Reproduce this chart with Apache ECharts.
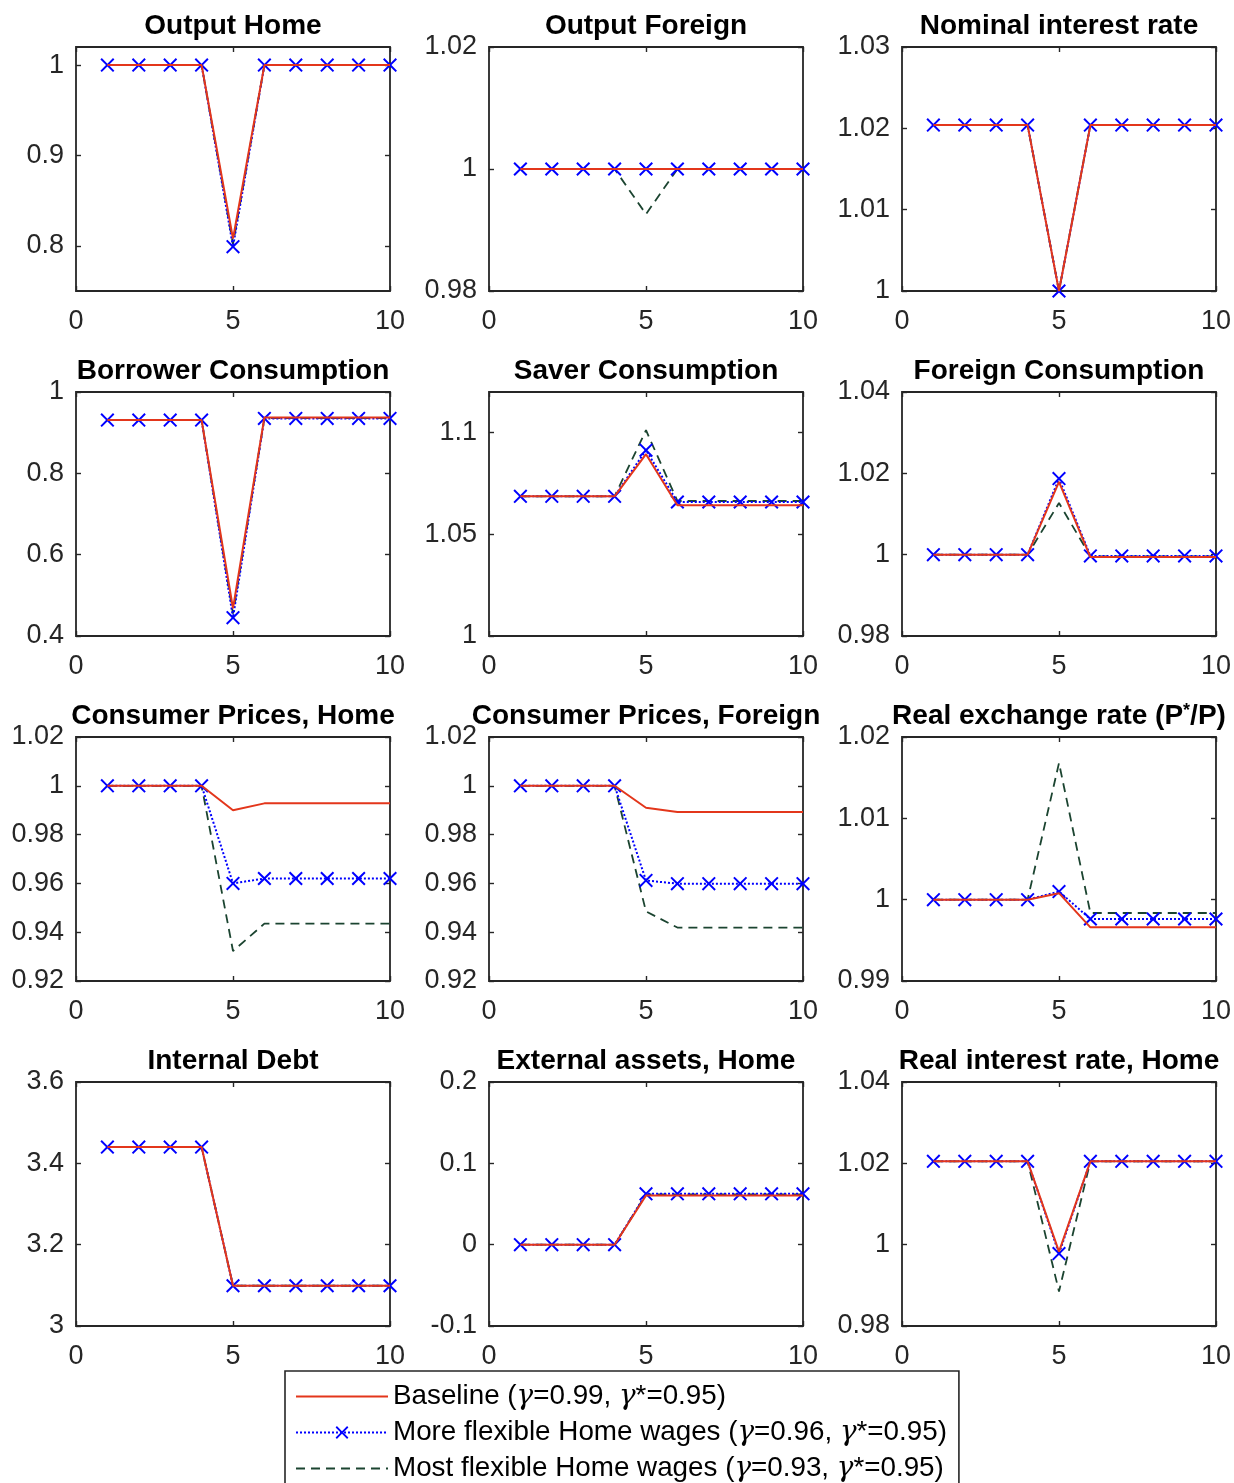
<!DOCTYPE html>
<html><head><meta charset="utf-8">
<script src="https://cdn.jsdelivr.net/npm/echarts@6/dist/echarts.min.js"></script>
<style>html,body{margin:0;padding:0;background:#fff}#c{width:1234px;height:1483px}</style>
</head><body><div id="c"></div>
<script>
const periods = [1, 2, 3, 4, 5, 6, 7, 8, 9, 10];
const seriesNames = [
  'Baseline (γ=0.99, γ*=0.95)',
  'More flexible Home wages (γ=0.96, γ*=0.95)',
  'Most flexible Home wages (γ=0.93, γ*=0.95)'
];
const panelTitles = [
  'Output Home', 'Output Foreign', 'Nominal interest rate',
  'Borrower Consumption', 'Saver Consumption', 'Foreign Consumption',
  'Consumer Prices, Home', 'Consumer Prices, Foreign', 'Real exchange rate (P*/P)',
  'Internal Debt', 'External assets, Home', 'Real interest rate, Home'
];
const xTicks = [0, 5, 10];

// each: [baseline, more flexible, most flexible]
const outputHome = [
  [1, 1, 1, 1, 0.808, 1, 1, 1, 1, 1],
  [1, 1, 1, 1, 0.799, 1, 1, 1, 1, 1],
  [1, 1, 1, 1, 0.802, 1, 1, 1, 1, 1]
];
const outputForeign = [
  [1, 1, 1, 1, 1, 1, 1, 1, 1, 1],
  [1, 1, 1, 1, 1, 1, 1, 1, 1, 1],
  [1, 1, 1, 1, 0.9926, 1, 1, 1, 1, 1]
];
const nominalRate = [
  [1.0204, 1.0204, 1.0204, 1.0204, 1.0, 1.0204, 1.0204, 1.0204, 1.0204, 1.0204],
  [1.0204, 1.0204, 1.0204, 1.0204, 1.0, 1.0204, 1.0204, 1.0204, 1.0204, 1.0204],
  [1.0204, 1.0204, 1.0204, 1.0204, 1.0, 1.0204, 1.0204, 1.0204, 1.0204, 1.0204]
];
const borrowerCons = [
  [0.931, 0.931, 0.931, 0.931, 0.468, 0.9375, 0.9375, 0.9375, 0.9375, 0.9375],
  [0.931, 0.931, 0.931, 0.931, 0.445, 0.935, 0.935, 0.935, 0.935, 0.935],
  [0.931, 0.931, 0.931, 0.931, 0.455, 0.936, 0.936, 0.936, 0.936, 0.936]
];
const saverCons = [
  [1.0687, 1.0687, 1.0687, 1.0687, 1.0894, 1.0643, 1.0643, 1.0643, 1.0643, 1.0643],
  [1.0687, 1.0687, 1.0687, 1.0687, 1.0914, 1.0659, 1.0659, 1.0659, 1.0659, 1.0659],
  [1.0687, 1.0687, 1.0687, 1.0687, 1.1012, 1.0664, 1.0664, 1.0664, 1.0664, 1.0664]
];
const foreignCons = [
  [1, 1, 1, 1, 1.0179, 0.9994, 0.9994, 0.9994, 0.9994, 0.9994],
  [1, 1, 1, 1, 1.0187, 0.9997, 0.9997, 0.9997, 0.9997, 0.9997],
  [1, 1, 1, 1, 1.0127, 0.9996, 0.9996, 0.9996, 0.9996, 0.9996]
];
const cpiHome = [
  [1, 1, 1, 1, 0.990, 0.9928, 0.9928, 0.9928, 0.9928, 0.9928],
  [1, 1, 1, 1, 0.960, 0.962, 0.962, 0.962, 0.962, 0.962],
  [1, 1, 1, 1, 0.9323, 0.9435, 0.9435, 0.9435, 0.9435, 0.9435]
];
const cpiForeign = [
  [1, 1, 1, 1, 0.991, 0.9893, 0.9893, 0.9893, 0.9893, 0.9893],
  [1, 1, 1, 1, 0.9612, 0.9599, 0.9599, 0.9599, 0.9599, 0.9599],
  [1, 1, 1, 1, 0.9485, 0.9419, 0.9419, 0.9419, 0.9419, 0.9419]
];
const realExchange = [
  [1, 1, 1, 1, 1.0008, 0.9966, 0.9966, 0.9966, 0.9966, 0.9966],
  [1, 1, 1, 1, 1.0010, 0.99762, 0.99762, 0.99762, 0.99762, 0.99762],
  [1, 1, 1, 1, 1.0168, 0.99836, 0.99836, 0.99836, 0.99836, 0.99836]
];
const internalDebt = [
  [3.44, 3.44, 3.44, 3.44, 3.099, 3.099, 3.099, 3.099, 3.099, 3.099],
  [3.44, 3.44, 3.44, 3.44, 3.099, 3.099, 3.099, 3.099, 3.099, 3.099],
  [3.44, 3.44, 3.44, 3.44, 3.099, 3.099, 3.099, 3.099, 3.099, 3.099]
];
const externalAssets = [
  [0, 0, 0, 0, 0.0605, 0.0605, 0.0605, 0.0605, 0.0605, 0.0605],
  [0, 0, 0, 0, 0.0625, 0.0625, 0.0625, 0.0625, 0.0625, 0.0625],
  [0, 0, 0, 0, 0.0618, 0.0618, 0.0618, 0.0618, 0.0618, 0.0618]
];
const realRate = [
  [1.0205, 1.0205, 1.0205, 1.0205, 0.9983, 1.0205, 1.0205, 1.0205, 1.0205, 1.0205],
  [1.0205, 1.0205, 1.0205, 1.0205, 0.9978, 1.0205, 1.0205, 1.0205, 1.0205, 1.0205],
  [1.0205, 1.0205, 1.0205, 1.0205, 0.9885, 1.0205, 1.0205, 1.0205, 1.0205, 1.0205]
];

const yMin = [0.75, 0.98, 1, 0.4, 1, 0.98, 0.92, 0.92, 0.99, 3, -0.1, 0.98];
const yMax = [1.02, 1.02, 1.03, 1, 1.12, 1.04, 1.02, 1.02, 1.02, 3.6, 0.2, 1.04];
const yTicks = [
  [0.8, 0.9, 1],
  [0.98, 1, 1.02],
  [1, 1.01, 1.02, 1.03],
  [0.4, 0.6, 0.8, 1],
  [1, 1.05, 1.1],
  [0.98, 1, 1.02, 1.04],
  [0.92, 0.94, 0.96, 0.98, 1, 1.02],
  [0.92, 0.94, 0.96, 0.98, 1, 1.02],
  [0.99, 1, 1.01, 1.02],
  [3, 3.2, 3.4, 3.6],
  [-0.1, 0, 0.1, 0.2],
  [0.98, 1, 1.02, 1.04]
];

const panelData = [outputHome, outputForeign, nominalRate, borrowerCons, saverCons, foreignCons,
  cpiHome, cpiForeign, realExchange, internalDebt, externalAssets, realRate];

// layout
const colLeft = [76, 489, 902];
const rowTop = [47, 392, 737, 1082];
const plotW = 314, plotH = 244;
const FONT = 'Liberation Sans, Arial, Helvetica, sans-serif';
const AXC = '#262626';
const colors = ['#e3361b', '#0000ff', '#1b4430'];
const xSymbol = 'path://M0,1L1,0L5,4L9,0L10,1L6,5L10,9L9,10L5,6L1,10L0,9L4,5Z';

const grids = [], xAxes = [], yAxes = [], titles = [], series = [];
const tickStyle = { color: AXC, width: 1.4 };
panelData.forEach((pd, i) => {
  const r = Math.floor(i / 3), c = i % 3;
  grids.push({ left: colLeft[c], top: rowTop[r], width: plotW, height: plotH,
    show: true, borderColor: AXC, borderWidth: 1.8, backgroundColor: '#fff' });
  const xa0 = xAxes.length, ya0 = yAxes.length;
  xAxes.push({ gridIndex: i, type: 'value', min: 0, max: 10, interval: 5, position: 'bottom',
    axisLine: { show: false, onZero: false }, splitLine: { show: false },
    axisTick: { inside: true, length: 5, lineStyle: tickStyle, customValues: xTicks },
    axisLabel: { fontSize: 27, color: AXC, fontFamily: FONT, margin: 17, customValues: xTicks } });
  xAxes.push({ gridIndex: i, type: 'value', min: 0, max: 10, interval: 5, position: 'top',
    axisLine: { show: false, onZero: false }, splitLine: { show: false }, axisLabel: { show: false },
    axisTick: { inside: true, length: 5, lineStyle: tickStyle, customValues: xTicks } });
  yAxes.push({ gridIndex: i, type: 'value', min: yMin[i], max: yMax[i], position: 'left',
    axisLine: { show: false, onZero: false }, splitLine: { show: false },
    axisTick: { inside: true, length: 5, lineStyle: tickStyle, customValues: yTicks[i] },
    axisLabel: { fontSize: 27, color: AXC, fontFamily: FONT, margin: 12, customValues: yTicks[i],
      formatter: v => String(+v.toFixed(4)) } });
  yAxes.push({ gridIndex: i, type: 'value', min: yMin[i], max: yMax[i], position: 'right',
    axisLine: { show: false, onZero: false }, splitLine: { show: false }, axisLabel: { show: false },
    axisTick: { inside: true, length: 5, lineStyle: tickStyle, customValues: yTicks[i] } });

  let t = panelTitles[i];
  if (t.indexOf('*') >= 0) {
    const parts = t.split('*');
    t = '{b|' + parts[0] + '}{s|*}{b|' + parts[1] + '}';
  }
  titles.push({ text: t, left: colLeft[c] + plotW / 2, top: rowTop[r] - 35, textAlign: 'center', padding: 0,
    textStyle: { fontSize: 28, fontWeight: 'bold', color: '#000', fontFamily: FONT,
      rich: { b: { fontSize: 28, fontWeight: 'bold', color: '#000', fontFamily: FONT },
              s: { fontSize: 18, fontWeight: 'bold', color: '#000', fontFamily: FONT, verticalAlign: 'top', padding: [0, 0, 6, 0] } } } });

  const data = k => periods.map((p, j) => [p, pd[k][j]]);
  series.push({ name: seriesNames[2], type: 'line', xAxisIndex: xa0, yAxisIndex: ya0, data: data(2),
    symbol: 'none', z: 2, animation: false,
    itemStyle: { color: colors[2] },
    lineStyle: { color: colors[2], width: 1.8, type: [9, 6] } });
  series.push({ name: seriesNames[1], type: 'line', xAxisIndex: xa0, yAxisIndex: ya0, data: data(1),
    symbol: xSymbol, symbolSize: 14, showAllSymbol: true, z: 3, animation: false,
    itemStyle: { color: colors[1] },
    lineStyle: { color: colors[1], width: 2, type: [2, 2] } });
  series.push({ name: seriesNames[0], type: 'line', xAxisIndex: xa0, yAxisIndex: ya0, data: data(0),
    symbol: 'none', z: 4, animation: false,
    itemStyle: { color: colors[0] },
    lineStyle: { color: colors[0], width: 2 } });
});

const chart = echarts.init(document.getElementById('c'), null, { renderer: 'canvas' });
chart.setOption({
  backgroundColor: '#fff',
  animation: false,
  title: titles,
  grid: grids,
  xAxis: xAxes,
  yAxis: yAxes,
  series: series,
  legend: {
    data: [
      { name: seriesNames[0], itemStyle: { opacity: 0 } },
      { name: seriesNames[1] },
      { name: seriesNames[2], itemStyle: { opacity: 0 } }
    ],
    orient: 'vertical',
    left: 285, top: 1371,
    height: 200,
    padding: [10, 12, 20, 10],
    backgroundColor: '#fff',
    borderColor: AXC, borderWidth: 1.6, borderRadius: 0,
    itemWidth: 92, itemHeight: 16, itemGap: 5,
    selectedMode: false,
    textStyle: { fontSize: 27.8, color: '#000', fontFamily: FONT, lineHeight: 31,
      rich: { g: { fontSize: 27.8, fontStyle: 'italic', fontFamily: 'DejaVu Serif, serif', color: '#000', lineHeight: 31 } } },
    formatter: name => name.replace(/γ/g, '{g|γ}')
  }
});
</script></body></html>
